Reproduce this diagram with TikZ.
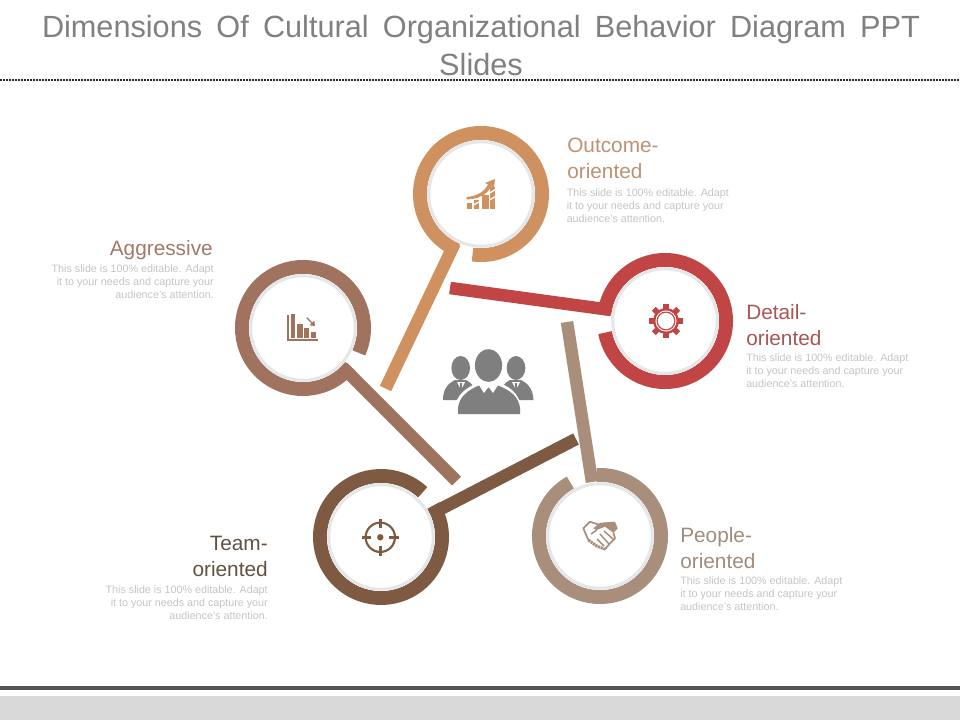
\documentclass[tikz,border=0pt]{standalone}
\usepackage{fontspec}
\setmainfont{Liberation Sans}
\definecolor{cOut}{HTML}{CF915F}
\definecolor{cDet}{HTML}{C04544}
\definecolor{cAgg}{HTML}{A0735F}
\definecolor{cTeam}{HTML}{7D5A41}
\definecolor{cPeo}{HTML}{A98F7B}
\definecolor{lOut}{HTML}{BD9272}
\definecolor{lDet}{HTML}{A85555}
\definecolor{lAgg}{HTML}{A07A68}
\definecolor{lTeam}{HTML}{64503F}
\definecolor{lPeo}{HTML}{A08C7C}
\definecolor{cPale}{HTML}{E4E6E8}
\definecolor{cHead}{HTML}{808080}
\definecolor{cBody}{HTML}{C4C4C4}
\definecolor{cMid}{HTML}{7F7F7F}
\newcommand\ringof[4]{%
  \draw[line width=10.5pt,#1] ([shift={(#3:45.75pt)}]#2) arc[start angle=#3,end angle=#4,radius=45.75pt];}
\newcommand\discof[1]{%
  \fill[white] (#1) circle[radius=40.5pt];
  \draw[cPale,line width=2.25pt] (#1) circle[radius=39.2pt];}
\tikzset{
  x=0.75pt,y=-0.75pt,
  barline/.style={line width=9.4pt},
  headtxt/.style={inner sep=0pt,font=\fontsize{15.6}{19.2}\selectfont},
  bodytxt/.style={inner sep=0pt,text=cBody,font=\fontsize{8.05}{9.75}\selectfont},
}
\begin{document}
\begin{tikzpicture}
\useasboundingbox (0,0) rectangle (960,720);
% title
\node[inner sep=0pt,text=cHead,align=center,font=\fontsize{23}{28.5}\selectfont,anchor=north] (title) at (481,15)
  {\makebox[658.5pt][s]{Dimensions Of Cultural Organizational Behavior Diagram PPT}\\Slides};
\coordinate (dl) at (0,80);
\coordinate (dr) at (960,80);
\draw[black!85,line width=1.1pt,dash pattern=on 1.3pt off 0.95pt] (dl) -- (dr);
% footer
\fill[white!33!black] (0,686) rectangle (960,690);
\fill[black!15] (0,696) rectangle (960,720);
% centres
\coordinate (out) at (481,194);
\coordinate (det) at (665,321);
\coordinate (agg) at (303,328);
\coordinate (team) at (381,537);
\coordinate (peo) at (600,536);
% bar ends
\coordinate (outE) at (385.5,388.5);
\coordinate (outS) at (454.6,243.4);
\coordinate (detE) at (450,288);
\coordinate (detS) at (611,310);
\coordinate (aggE) at (456.5,481);
\coordinate (aggS) at (343,367.5);
\coordinate (teamE) at (576,439);
\coordinate (teamS) at (433,513);
\coordinate (peoE) at (567,322);
\coordinate (peoS) at (592,482);
% bars
\draw[barline,cOut] (outS) -- (outE);
\draw[barline,cDet] (detS) -- (detE);
\draw[barline,cAgg] (aggS) -- (aggE);
\draw[barline,cTeam] (teamS) -- (teamE);
\draw[barline,cPeo] (peoS) -- (peoE);
% rings
\ringof{cOut}{out}{262}{607}
\ringof{cDet}{det}{191}{534}
\ringof{cAgg}{agg}{-24}{321}
\ringof{cTeam}{team}{47}{391}
\ringof{cPeo}{peo}{119}{453}
\discof{out}\discof{det}\discof{agg}\discof{team}\discof{peo}
% outcome icon
\begin{scope}[cOut]
\fill (466.7,202.7) rectangle (471.7,208.7);
\fill (482,195) rectangle (488.7,208.7);
\fill (474,200) rectangle (479.3,208.7);
\fill (490,186.7) rectangle (495,208.7);
\fill[white] (474,204) -- (479.3,201) -- (479.3,202.5) -- (474,205.5) -- cycle;
\fill[white] (490,192) -- (495,189) -- (495,190.5) -- (490,193.5) -- cycle;
\fill[white] (490,199) -- (495,196) -- (495,197.5) -- (490,200.5) -- cycle;
\fill (466.7,197) .. controls (478,196) and (485,191) .. (488,184.5) -- (485,183) -- (495,179) -- (494,188) -- (491,186.5) .. controls (487,195) and (478,199) .. (466.7,199.5) -- cycle;
\end{scope}
% gear icon
\begin{scope}[cDet,shift={(666,321)}]
\foreach \a in {0,45,...,315}{
  \fill[rotate=\a] (11,-2.8) rectangle (17.3,2.8);}
\fill (0,0) circle[radius=9.75pt];
\fill[white] (0,0) circle[radius=7.9pt];
\fill (0,0) circle[radius=7.1pt];
\fill[white] (0,0) circle[radius=6.1pt];
\end{scope}
% aggressive icon
\begin{scope}[cAgg]
\fill (286.7,315) rectangle (288.7,341);
\fill (286.7,339) rectangle (318.3,341);
\fill (290.7,314.3) rectangle (295.3,338.3);
\fill (297.3,324.3) rectangle (302.7,338.3);
\fill (304,328.3) rectangle (309.3,338.3);
\fill (311.3,331.7) rectangle (316,338.3);
\draw[line width=1pt] (306.7,317.7) -- (313,324);
\fill (315,326) -- (314.3,320.6) -- (309.6,325.3) -- cycle;
\end{scope}
% target icon
\begin{scope}[cTeam,shift={(380.3,537.3)}]
\draw[line width=1.6pt] (0,0) circle[radius=11pt];
\fill (0,0) circle[radius=2.4pt];
\foreach \a in {0,90,180,270}{
  \fill[rotate=\a] (9,-1.3) rectangle (18.7,1.3);}
\end{scope}
% handshake icon
\begin{scope}[cPeo]
\draw[line width=1.3pt,line join=round] (600,525) -- (590,521.7) -- (583.3,528.3) -- (588.3,540);
\fill (593.3,528.3) -- (600,522.7) -- (615,521.7) -- (617.7,528.3) -- (613.3,532.7) -- (605,526.7) -- (596.7,530) -- cycle;
\draw[line width=1.3pt,line join=round] (613.3,532.7) -- (615,538.3) -- (610,543.3) -- (605,549.3);
\draw[line width=2.2pt,dash pattern=on 1.7pt off .5pt] (588.3,540) -- (596.7,546) -- (605,549.3);
\draw[line width=1.1pt] (604,531) -- (613,539) (600,534) -- (609,544) (597,539) -- (604,546) (596.7,530) -- (591,534);
\end{scope}
% central people
\begin{scope}[cMid]
\fill (460.7,368) ellipse[x radius=7pt,y radius=9pt];
\fill (516,368) ellipse[x radius=7pt,y radius=9pt];
\fill (443,400) .. controls (443,390) and (447,384) .. (455,380) -- (466,380) .. controls (472,383) and (478,390) .. (478,400) -- cycle;
\fill (498,400) .. controls (498,390) and (504,383) .. (510,380) -- (521,380) .. controls (529,384) and (533,390) .. (533.5,400) -- cycle;
\fill[white] (457,382) -- (461,390) -- (465,382) -- cycle;
\fill[white] (512,382) -- (516,390) -- (520,382) -- cycle;
\fill (460,383) -- (462,383) -- (462.5,392) -- (461,394) -- (459.5,392) -- cycle;
\fill (515,383) -- (517,383) -- (517.5,392) -- (516,394) -- (514.5,392) -- cycle;
\fill[white] (455,416) -- (455,408) .. controls (456,395) and (466,388) .. (477,383) -- (500,383) .. controls (512,388) and (521,395) .. (523,416) -- cycle;
\fill (458,414) -- (458,408) .. controls (459,397) and (468,390) .. (479,385.5) -- (498,385.5) .. controls (510,390) and (519,397) .. (520,408) -- (520,414) -- cycle;
\fill[white] (479,385) -- (484,393) -- (488.5,387) -- (493,393) -- (498,385) -- (500,380) -- (477,380) -- cycle;
\fill (488.5,365.5) ellipse[x radius=10.2pt,y radius=12.2pt];
\fill (487,389) -- (490,389) -- (491.5,402) -- (488.5,405) -- (485.5,402) -- cycle;
\end{scope}
% texts
\node[headtxt,text=lOut,anchor=base west,align=left] (outL) at (567,178.5) {Outcome-\\oriented};
\node[bodytxt,anchor=north west,align=left] (outB) at (566.5,188) {This slide is 100\% editable. Adapt\\it to your needs and capture your\\audience's attention.};
\node[headtxt,text=lDet,anchor=base west,align=left] (detL) at (746,345) {Detail-\\oriented};
\node[bodytxt,anchor=north west,align=left] (detB) at (746,353.5) {This slide is 100\% editable. Adapt\\it to your needs and capture your\\audience's attention.};
\node[headtxt,text=lAgg,anchor=base east,align=right] (aggL) at (213,256) {Aggressive};
\node[bodytxt,anchor=north east,align=right] (aggB) at (214,264.5) {This slide is 100\% editable. Adapt\\it to your needs and capture your\\audience's attention.};
\node[headtxt,text=lTeam,anchor=base east,align=right] (teamL) at (268,576.5) {Team-\\oriented};
\node[bodytxt,anchor=north east,align=right] (teamB) at (268,585) {This slide is 100\% editable. Adapt\\it to your needs and capture your\\audience's attention.};
\node[headtxt,text=lPeo,anchor=base west,align=left] (peoL) at (680,568) {People-\\oriented};
\node[bodytxt,anchor=north west,align=left] (peoB) at (680,576.5) {This slide is 100\% editable. Adapt\\it to your needs and capture your\\audience's attention.};
\end{tikzpicture}
\end{document}
